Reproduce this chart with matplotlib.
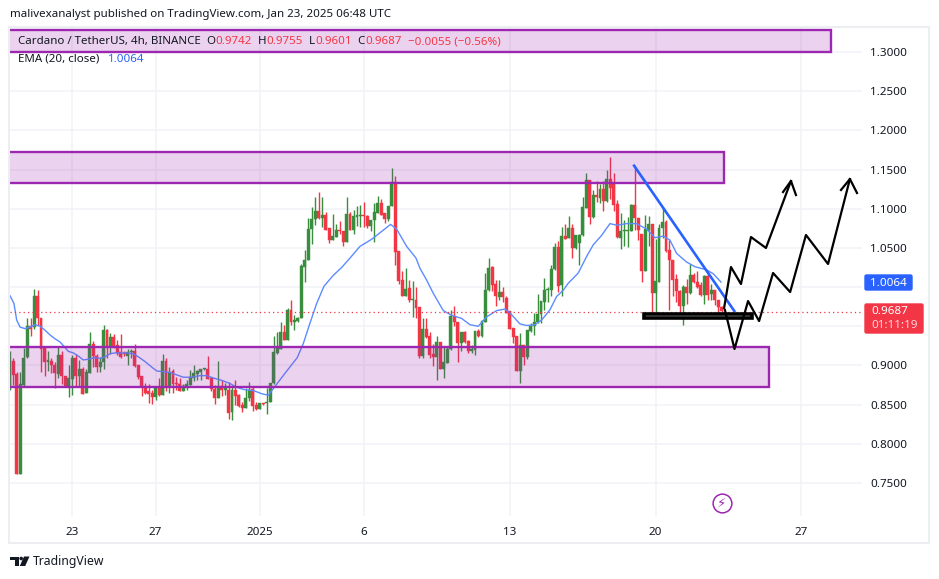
import matplotlib
matplotlib.use('Agg')
import matplotlib.pyplot as plt
from matplotlib.patches import Rectangle, FancyBboxPatch, Polygon, Circle

plt.rcParams['font.family'] = ['Noto Sans', 'DejaVu Sans']

# 4h candles, first one is Dec 20 00:00
opens = [
    .874, .906, .889, .762, .875, .911, .950, .949, .989, .960, .923, .905, .906, .901, .889, .913, .887, .873, .883, .909,
    .886, .895, .865, .891, .927, .912, .898, .904, .945, .925, .936, .926, .917, .915, .912, .917, .918, .900, .887, .873,
    .867, .865, .860, .873, .862, .906, .874, .893, .877, .876, .868, .873, .875, .884, .889, .892, .895, .895, .884, .870,
    .858, .874, .869, .869, .840, .869, .862, .849, .846, .858, .870, .849, .845, .852, .852, .853, .877, .916, .921, .943,
    .933, .971, .955, .957, .961, 1.026, 1.035, 1.074, 1.087, 1.097, 1.088, 1.092, 1.075, 1.060, 1.064, 1.073, 1.072, 1.058, 1.093, 1.073,
    1.090, 1.091, 1.092, 1.091, 1.078, 1.085, 1.095, 1.107, 1.094, 1.087, 1.103, 1.134, 1.046, 1.009, .989, .999, .983, .984, .975, .912,
    .947, .937, .915, .911, .930, .896, .903, .921, .963, .955, .929, .943, .931, .918, .920, .944, .937, .956, .996, 1.026,
    1.004, .987, .994, .986, .969, .948, .937, .893, .926, .911, .944, .950, .955, .966, .981, .996, .996, 1.023, 1.051, 1.003,
    1.065, 1.063, 1.075, 1.050, 1.056, 1.066, 1.101, 1.137, 1.089, 1.118, 1.114, 1.125, 1.110, 1.138, 1.133, 1.106, 1.063, 1.071, 1.071, 1.072,
    1.105, 1.088, 1.068, 1.020, 1.073, 1.081, .992, 1.007, 1.076, 1.083, 1.047, 1.035, 1.010, .995, .976, 1.000, .992, 1.015, 1.007, 1.003,
    .990, 1.014, .991, .996, .983, .974,
]
highs = [
    .918, .909, .892, .892, .922, .960, .960, .998, .996, .961, .923, .918, .910, .905, .924, .918, .887, .901, .913, .915,
    .907, .898, .896, .943, .931, .915, .911, .952, .946, .941, .940, .932, .940, .918, .921, .921, .928, .900, .887, .877,
    .876, .869, .873, .884, .915, .909, .898, .896, .885, .884, .876, .881, .894, .901, .894, .896, .897, .912, .885, .875,
    .906, .881, .878, .879, .873, .881, .864, .854, .871, .879, .872, .854, .852, .852, .871, .878, .937, .943, .956, .952,
    .973, .984, .965, .962, 1.030, 1.047, 1.088, 1.102, 1.115, 1.121, 1.115, 1.096, 1.075, 1.093, 1.081, 1.084, 1.072, 1.115, 1.096, 1.098,
    1.103, 1.105, 1.109, 1.092, 1.086, 1.107, 1.116, 1.113, 1.094, 1.104, 1.152, 1.142, 1.046, 1.021, 1.025, 1.009, 1.008, 1.000, .975, .960,
    .960, .943, .928, .937, .930, .924, .924, .971, .976, .956, .943, .944, .933, .926, .944, .947, .958, 1.018, 1.037, 1.027,
    1.009, 1.009, 1.000, .988, .970, .948, .937, .941, .926, .945, .954, .967, .991, .982, 1.012, 1.000, 1.028, 1.056, 1.059, 1.077,
    1.081, 1.091, 1.081, 1.066, 1.068, 1.115, 1.146, 1.137, 1.124, 1.135, 1.132, 1.136, 1.150, 1.166, 1.146, 1.111, 1.094, 1.086, 1.090, 1.106,
    1.154, 1.088, 1.068, 1.092, 1.091, 1.081, 1.062, 1.081, 1.102, 1.086, 1.060, 1.035, 1.017, .996, 1.003, 1.010, 1.029, 1.018, 1.020, 1.007,
    1.015, 1.020, 1.004, .996, .983, .976,
]
lows = [
    .869, .875, .762, .762, .872, .910, .937, .947, .952, .892, .887, .893, .890, .871, .884, .876, .872, .860, .862, .874,
    .873, .864, .865, .890, .898, .892, .892, .896, .910, .915, .922, .913, .910, .912, .901, .910, .898, .883, .861, .864,
    .852, .851, .856, .861, .862, .868, .865, .865, .869, .868, .868, .869, .875, .880, .882, .882, .894, .883, .868, .851,
    .858, .861, .862, .832, .830, .849, .847, .841, .846, .855, .842, .843, .845, .850, .838, .853, .876, .915, .921, .932,
    .932, .952, .945, .956, .961, 1.007, 1.035, 1.055, 1.079, 1.087, 1.077, 1.073, 1.056, 1.060, 1.064, 1.068, 1.052, 1.058, 1.073, 1.068,
    1.078, 1.077, 1.077, 1.075, 1.072, 1.058, 1.094, 1.092, 1.082, 1.084, 1.103, 1.028, 1.004, .989, .989, .981, .962, .960, .909, .909,
    .935, .910, .899, .881, .896, .884, .903, .920, .950, .904, .918, .929, .916, .916, .913, .936, .936, .955, .995, .995,
    .976, .983, .981, .967, .947, .929, .893, .877, .901, .908, .943, .939, .954, .954, .971, .981, .989, 1.022, .994, .989,
    1.061, 1.063, 1.037, 1.049, 1.028, 1.065, 1.101, 1.081, 1.088, 1.108, 1.107, 1.097, 1.108, 1.113, 1.097, 1.063, 1.049, 1.052, 1.051, 1.071,
    1.073, 1.060, 1.007, 1.020, 1.052, .966, .960, 1.007, 1.063, 1.045, .971, .988, .981, .966, .952, .978, .991, 1.005, .999, .989,
    .978, .983, .983, .977, .961, .960,
]
closes = [
    .906, .888, .762, .876, .910, .950, .947, .989, .960, .921, .904, .906, .900, .890, .913, .887, .873, .884, .909, .886,
    .895, .864, .892, .927, .912, .898, .904, .945, .925, .936, .923, .916, .911, .914, .917, .918, .899, .885, .872, .865,
    .864, .860, .872, .862, .906, .874, .892, .876, .876, .868, .874, .876, .885, .890, .893, .895, .896, .883, .870, .859,
    .873, .869, .873, .839, .869, .861, .848, .846, .858, .869, .848, .844, .852, .851, .853, .877, .917, .922, .943, .933,
    .971, .955, .958, .961, 1.027, 1.035, 1.074, 1.087, 1.097, 1.088, 1.092, 1.073, 1.060, 1.065, 1.073, 1.071, 1.058, 1.093, 1.073, 1.091,
    1.092, 1.092, 1.091, 1.078, 1.086, 1.096, 1.107, 1.092, 1.087, 1.103, 1.134, 1.045, 1.008, .989, .997, .983, .984, .973, .912, .947,
    .936, .913, .911, .930, .896, .904, .921, .963, .955, .929, .943, .930, .918, .921, .944, .937, .957, .996, 1.025, 1.003,
    .988, .994, .987, .967, .947, .936, .893, .926, .911, .945, .950, .955, .966, .982, .996, .997, 1.023, 1.051, 1.001, 1.065,
    1.062, 1.075, 1.050, 1.066, 1.066, 1.102, 1.137, 1.089, 1.117, 1.115, 1.125, 1.110, 1.138, 1.126, 1.105, 1.064, 1.071, 1.072, 1.072, 1.105,
    1.088, 1.073, 1.020, 1.074, 1.081, .992, 1.008, 1.076, 1.083, 1.046, 1.034, 1.009, .995, .976, 1.000, .992, 1.015, 1.006, 1.000, .990,
    1.014, .990, .996, .983, .974, .969,
]

# EMA(20), days since Dec 20
ema_days = [.01, .20, .33, .49, .73, .97, 1.21, 1.45, 1.69, 1.93, 2.17, 2.41, 2.65, 2.81, 3.05, 3.29, 3.53, 3.77, 4.09, 4.33,
            4.57, 4.81, 5.05, 5.29, 5.61, 5.93, 6.17, 6.49, 6.81, 7.05, 7.37, 7.69, 8.01, 8.33, 8.73, 9.13, 9.45, 9.77, 10.17, 10.57,
            10.89, 11.29, 11.69, 12.09, 12.41, 12.81, 13.21, 13.80, 14.09, 14.41, 14.73, 15.08, 15.53, 15.93, 16.33, 16.81, 17.37, 17.85, 18.28, 18.57,
            19.05, 19.50, 19.69, 20.01, 20.33, 20.81, 21.21, 21.69, 22.09, 22.49, 22.89, 23.37, 23.77, 24.01, 24.49, 24.81, 25.21, 25.53, 25.93, 26.25,
            26.57, 26.81, 27.29, 27.69, 28.01, 28.41, 28.81, 29.13, 29.61, 30.09, 30.57, 30.97, 31.37, 31.69, 32.01, 32.49, 32.89, 33.45, 33.77, 34.14]
ema_vals = [.989, .979, .958, .949, .947, .949, .952, .950, .945, .939, .934, .930, .923, .918, .916, .912, .907, .908, .910, .909,
            .911, .915, .916, .916, .916, .915, .911, .905, .898, .893, .892, .891, .888, .885, .885, .887, .887, .884, .881, .877,
            .872, .869, .868, .864, .862, .876, .890, .910, .928, .954, .979, 1.001, 1.015, 1.025, 1.037, 1.052, 1.061, 1.071, 1.080, 1.074,
            1.052, 1.037, 1.024, 1.009, .992, .970, .964, .960, .952, .950, .962, .970, .972, .967, .953, .951, .952, .958, .971, .988,
            .996, 1.005, 1.018, 1.039, 1.054, 1.066, 1.081, 1.079, 1.081, 1.081, 1.074, 1.063, 1.065, 1.060, 1.043, 1.032, 1.026, 1.022, 1.017, 1.0064]

last_price = 0.9687
y_ticks = [1.30, 1.25, 1.20, 1.15, 1.10, 1.05, 1.00, .95, .90, .85, .80, .75]
y_labels = ['1.3000', '1.2500', '1.2000', '1.1500', '1.1000', '1.0500', '', '', '0.9000', '0.8500', '0.8000', '0.7500']
x_ticks = [3, 7, 12, 17, 24, 31, 38]
x_labels = ['23', '27', '2025', '6', '13', '20', '27']

# drawings: (end day, top price, bottom price)
zones = [(39.42, 1.328, 1.300), (34.29, 1.1724, 1.1328), (36.45, .924, .8725)]
trend_days = [29.97, 34.78]
trend_vals = [1.1549, .9695]
path1_days = [34.29, 34.62, 35.10, 35.58, 36.30, 37.50]
path1_vals = [.9733, 1.0256, 1.0039, 1.0639, 1.0499, 1.1354]
head1_days = [37.12, 37.50, 37.74]
head1_vals = [1.1213, 1.1354, 1.1175]
path2_days = [34.33, 34.79, 35.44, 35.97, 36.64, 37.46, 38.22, 39.28, 40.33]
path2_vals = [.9708, .9210, .9822, .9567, 1.0180, .9937, 1.0665, 1.0295, 1.1379]
head2_days = [39.90, 40.33, 40.67]
head2_vals = [1.1239, 1.1379, 1.1201]

GREEN = '#388e3c'
RED = '#f23645'
PURPLE = '#9c27b0'
BLUE = '#2962ff'
GRID = '#f0f2f6'
DARK = '#131722'

W, H = 939, 579
fig = plt.figure(figsize=(W / 100, H / 100), dpi=100, facecolor='white')
ax = fig.add_axes([10 / W, 1 - 516 / H, 852 / W, 489 / H])
ax.set_xlim(0.01, 40.91)
ax.set_ylim(0.7079, 1.3319)
for s in ax.spines.values():
    s.set_visible(False)
ax.yaxis.tick_right()
ax.set_yticks(y_ticks)
ax.set_yticklabels(y_labels, fontsize=8.4, color=DARK)
ax.set_xticks(x_ticks)
ax.set_xticklabels(x_labels, fontsize=8.4, color=DARK)
ax.get_xticklabels()[2].set_fontweight('bold')
ax.tick_params(axis='both', length=0)
ax.tick_params(axis='y', pad=6)
ax.tick_params(axis='x', pad=8)
ax.grid(True, color=GRID, lw=1.1)
ax.set_axisbelow(True)

# candles
days = [i / 6 for i in range(len(closes))]
colors = [GREEN if c >= o else RED for o, c in zip(opens, closes)]
ax.vlines(days, lows, highs, colors=colors, lw=1.0, zorder=3)
bottoms = [min(o, c) for o, c in zip(opens, closes)]
heights = [max(abs(c - o), 0.0015) for o, c in zip(opens, closes)]
ax.bar(days, heights, bottom=bottoms, width=0.14, color=colors, lw=0.3, edgecolor=colors, zorder=4)

ax.plot(ema_days, ema_vals, color='#5c8cff', lw=1.0, zorder=5)
ax.axhline(last_price, color=RED, lw=0.9, ls=(0, (1, 2.5)), zorder=5)

# zones and other drawings
for end, top, bottom in zones:
    ax.add_patch(Rectangle((-2, bottom), end + 2, top - bottom, facecolor=PURPLE, alpha=0.2, lw=0, zorder=6))
    ax.add_patch(Rectangle((-2, bottom), end + 2, top - bottom, fill=False, edgecolor=PURPLE, lw=1.7, zorder=6))
ax.plot(trend_days, trend_vals, color=BLUE, lw=1.9, zorder=7)
ax.add_patch(Rectangle((30.45, .9602), 35.65 - 30.45, .9660 - .9602, facecolor='white', edgecolor='black', lw=2.6, zorder=7))
ax.plot(path1_days, path1_vals, color='black', lw=1.6, zorder=8)
ax.plot(head1_days, head1_vals, color='black', lw=1.6, zorder=8)
ax.plot(path2_days, path2_vals, color='black', lw=1.6, zorder=8)
ax.plot(head2_days, head2_vals, color='black', lw=1.6, zorder=8)

# lightning mark
ax.plot([34.19], [.7245], 'o', ms=13.5, mfc='white', mec=PURPLE, mew=1.1, zorder=8)
ax.text(34.19, .7245, '\u26a1', fontsize=9.5, color=PURPLE, ha='center', va='center', family='DejaVu Sans', zorder=9)

# page furniture in pixel coordinates
ov = fig.add_axes([0, 0, 1, 1], zorder=10)
ov.set_xlim(0, W)
ov.set_ylim(H, 0)
ov.axis('off')
ov.patch.set_alpha(0)
ov.add_patch(Rectangle((9, 26.5), 919.5, 516, fill=False, edgecolor='#eceef2', lw=1.5))

ov.text(10, 15, 'malivexanalyst published on TradingView.com, Jan 23, 2025 06:48 UTC', fontsize=8.3, color=DARK, va='center')

legend_parts = [(18, 'Cardano / TetherUS, 4h, BINANCE', DARK), (206, 'O', DARK), (215, '0.9742', RED), (258, 'H', DARK),
                (266, '0.9755', RED), (309, 'L', DARK), (315, '0.9601', RED), (357, 'C', DARK), (365, '0.9687', RED),
                (408, '\u22120.0055 (\u22120.56%)', RED)]
for x, txt, col in legend_parts:
    ov.text(x, 41.5, txt, fontsize=8.3, color=col, va='center')
ov.text(18, 59, 'EMA (20, close)', fontsize=8.3, color=DARK, va='center')
ov.text(108, 59, '1.0064', fontsize=8.3, color=BLUE, va='center')

ov.add_patch(FancyBboxPatch((865, 275), 47, 15, boxstyle='round,pad=0,rounding_size=1.5', fc=BLUE, ec=BLUE, lw=1))
ov.text(888.5, 283, '1.0064', fontsize=8.4, color='white', ha='center', va='center')
ov.add_patch(FancyBboxPatch((865, 304), 58, 29, boxstyle='round,pad=0,rounding_size=1.5', fc=RED, ec=RED, lw=1))
ov.text(871, 311.5, '0.9687', fontsize=8.4, color='white', va='center')
ov.text(871, 325.5, '01:11:19', fontsize=8.4, color='#ffd5d8', va='center')

# TradingView logo
ov.add_patch(Polygon([(10, 556.5), (19, 556.5), (19, 566), (14.5, 566), (14.5, 560), (10, 560)], fc=DARK, lw=0))
ov.add_patch(Circle((21.2, 558.5), 1.8, fc=DARK, lw=0))
ov.add_patch(Polygon([(24, 556.5), (29.5, 556.5), (25.2, 566), (19.8, 566)], fc=DARK, lw=0))
ov.text(33, 561, 'TradingView', fontsize=8.8, color=DARK, va='center')

fig.savefig('out.png', dpi=100)
